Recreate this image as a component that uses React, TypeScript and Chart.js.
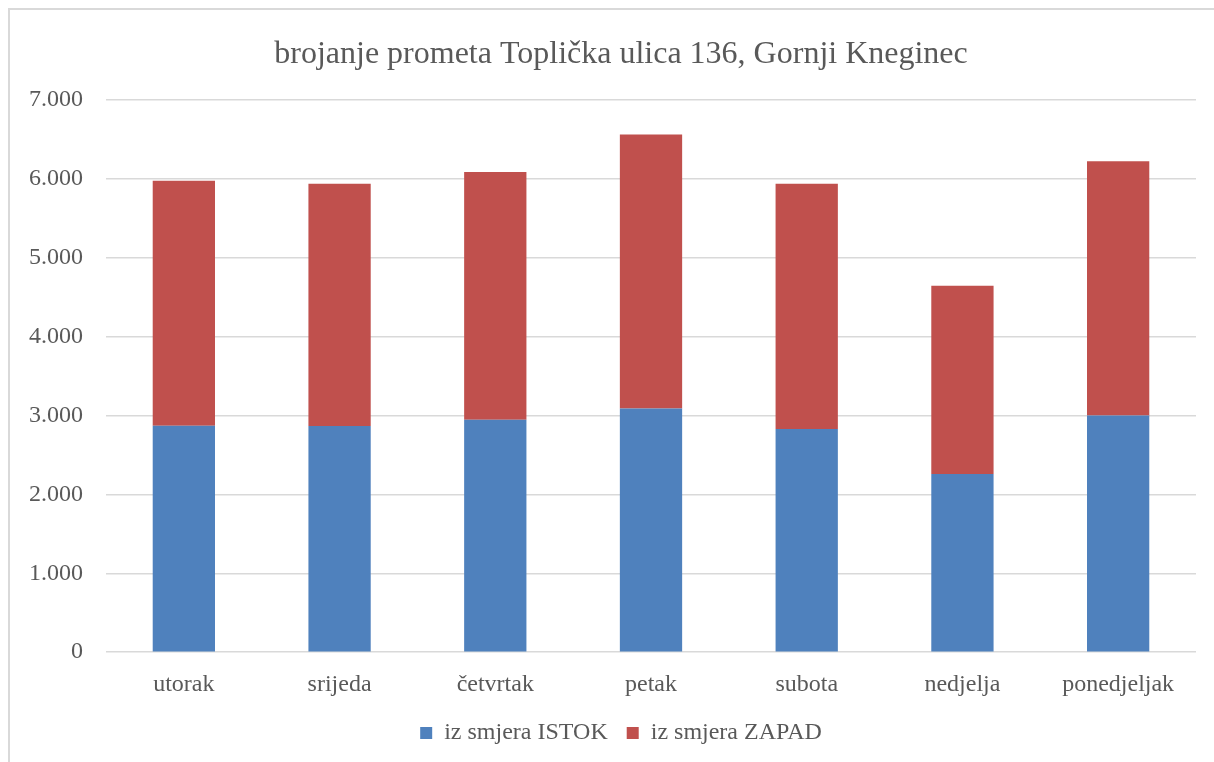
import React, { useEffect, useRef } from "react";
import { Chart, registerables } from "chart.js";

Chart.register(...registerables);

const categories = ["utorak", "srijeda", "četvrtak", "petak", "subota", "nedjelja", "ponedjeljak"];
const istok = [2872, 2868, 2948, 3088, 2830, 2258, 3000];
const zapad = [3103, 3069, 3138, 3476, 3108, 2386, 3225];
const seriesNames = ["iz smjera ISTOK", "iz smjera ZAPAD"];
const titleText = "brojanje prometa Toplička ulica 136, Gornji Kneginec";

const FONT = "'Liberation Serif', 'Times New Roman', serif";
const TEXT = "#595959";
const GRID = "#d9d9d9";

const frame = {
  id: "frame",
  beforeDraw(chart: any) {
    const ctx = chart.ctx;
    ctx.save();
    ctx.fillStyle = "#ffffff";
    ctx.fillRect(0, 0, chart.width, chart.height);
    ctx.strokeStyle = GRID;
    ctx.lineWidth = 2;
    ctx.beginPath();
    ctx.moveTo(9, chart.height + 5);
    ctx.lineTo(9, 9);
    ctx.lineTo(chart.width + 5, 9);
    ctx.stroke();
    ctx.restore();
  },
};

export default function App() {
  const ref = useRef<HTMLCanvasElement>(null);
  useEffect(() => {
    if (!ref.current) return;
    const chart = new Chart(ref.current, {
      type: "bar",
      data: {
        labels: categories,
        datasets: [
          { label: seriesNames[0], data: istok, backgroundColor: "#4F81BD" },
          { label: seriesNames[1], data: zapad, backgroundColor: "#C0504D" },
        ],
      },
      plugins: [frame],
      options: {
        animation: false,
        responsive: false,
        maintainAspectRatio: false,
        layout: { padding: { left: 46, right: 18, top: 0, bottom: 7 } },
        datasets: { bar: { barPercentage: 0.4, categoryPercentage: 1 } },
        plugins: {
          title: {
            display: true,
            text: titleText,
            color: TEXT,
            font: { family: FONT, size: 32, weight: "normal" },
            padding: { top: 35, bottom: 26.6 },
          },
          legend: {
            position: "bottom",
            labels: {
              color: TEXT,
              font: { family: FONT, size: 24 },
              boxWidth: 12,
              boxHeight: 12,
              padding: 19,
            },
          },
          tooltip: { enabled: false },
        },
        scales: {
          x: {
            stacked: true,
            grid: { display: false, drawTicks: false },
            border: { display: false },
            afterFit: (s: any) => {
              s.height = 49.8;
              s._computeLabelArea = () => undefined;
            },
            ticks: { color: TEXT, font: { family: FONT, size: 24 }, padding: 18 },
          },
          y: {
            stacked: true,
            min: 0,
            max: 7000,
            afterFit: (s: any) => {
              s.width = 60;
              s._computeLabelArea = () => undefined;
            },
            ticks: {
              stepSize: 1000,
              color: TEXT,
              font: { family: FONT, size: 24 },
              padding: 23,
              callback: (v: any) => Number(v).toString().replace(/\B(?=(\d{3})+(?!\d))/g, "."),
            },
            grid: { color: GRID, lineWidth: 1.5, drawTicks: false },
            border: { display: false },
          },
        },
      },
    });
    return () => chart.destroy();
  }, []);
  return (
    <div style={{ position: "fixed", left: 0, top: 0, width: 1214, height: 762, background: "#fff" }}>
      <canvas ref={ref} width={1214} height={762} style={{ width: 1214, height: 762, display: "block" }} />
    </div>
  );
}
